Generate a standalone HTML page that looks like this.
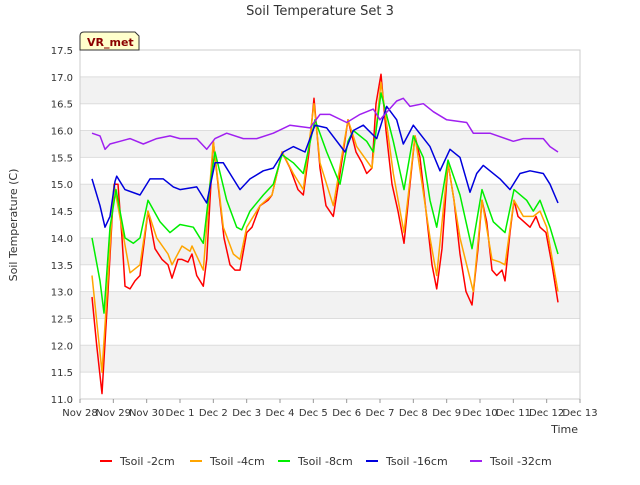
<!DOCTYPE html>
<html><head><meta charset="utf-8"><style>
body{margin:0;background:#fff;font-family:"Liberation Sans","DejaVu Sans",sans-serif}
</style></head><body>
<svg id="c" width="640" height="480" xmlns="http://www.w3.org/2000/svg" font-family="DejaVu Sans, Liberation Sans, sans-serif">
<text x="320" y="15" text-anchor="middle" font-size="13" fill="#333">Soil Temperature Set 3</text>
<g id="grid"></g><g id="series"></g><g id="axes"></g>
<text transform="translate(17,225) rotate(-90)" text-anchor="middle" font-size="11" fill="#333">Soil Temperature (C)</text>
<text x="578" y="433" text-anchor="end" font-size="11" fill="#333">Time</text>
<g><path d="M80,50 L80,36 Q80,32 84,32 L135,32 L139,36 L139,50 Z" fill="#ffffcc" stroke="#333"/><text x="87" y="46" font-size="11" font-weight="bold" fill="#8b0000">VR_met</text></g>
<g id="legend"></g>
</svg>
<script>
const xTicks=["Nov 28","Nov 29","Nov 30","Dec 1","Dec 2","Dec 3","Dec 4","Dec 5","Dec 6","Dec 7","Dec 8","Dec 9","Dec 10","Dec 11","Dec 12","Dec 13"];
const yTicks=[11.0,11.5,12.0,12.5,13.0,13.5,14.0,14.5,15.0,15.5,16.0,16.5,17.0,17.5];
const seriesNames=["Tsoil -2cm","Tsoil -4cm","Tsoil -8cm","Tsoil -16cm","Tsoil -32cm"];
const seriesColors=["#ff0000","#ffa500","#00ee00","#0000dd","#a020f0"];
const d2=[0.36,0.5,0.66,0.84,1.02,1.14,1.26,1.35,1.5,1.65,1.8,2.04,2.25,2.46,2.64,2.76,2.94,3.06,3.24,3.36,3.5,3.7,3.8,4.0,4.14,4.32,4.5,4.65,4.8,5.0,5.16,5.4,5.64,5.76,6.06,6.3,6.54,6.7,6.87,7.02,7.2,7.38,7.6,7.8,8.04,8.16,8.28,8.46,8.6,8.76,8.88,9.03,9.18,9.36,9.54,9.72,9.9,10.05,10.2,10.38,10.56,10.7,10.86,11.04,11.22,11.4,11.58,11.76,11.94,12.06,12.2,12.36,12.5,12.66,12.75,12.9,13.02,13.14,13.32,13.5,13.68,13.8,13.98,14.16,14.34];
const v2=[12.9,12.0,11.1,13.0,15.0,15.0,14.0,13.1,13.05,13.2,13.3,14.5,13.8,13.6,13.5,13.25,13.6,13.6,13.55,13.7,13.3,13.1,13.6,15.8,15.0,14.0,13.5,13.4,13.4,14.1,14.2,14.6,14.7,14.8,15.6,15.3,14.9,14.8,15.6,16.6,15.3,14.6,14.4,15.2,16.2,15.9,15.6,15.4,15.2,15.3,16.5,17.05,16.0,15.0,14.5,13.9,15.0,15.9,15.5,14.5,13.5,13.05,13.8,15.4,14.7,13.7,13.0,12.75,13.8,14.7,14.3,13.4,13.3,13.4,13.2,14.1,14.7,14.4,14.3,14.2,14.4,14.2,14.1,13.5,12.8];
const d4=[0.36,0.66,1.02,1.5,1.8,2.04,2.3,2.64,2.76,3.06,3.3,3.36,3.7,4.0,4.3,4.6,4.8,5.0,5.4,5.76,6.06,6.4,6.7,7.02,7.2,7.6,8.04,8.3,8.76,9.03,9.4,9.72,10.05,10.5,10.7,11.04,11.4,11.8,12.06,12.36,12.6,12.75,13.02,13.3,13.6,13.8,14.0,14.34];
const v4=[13.3,11.5,15.0,13.35,13.5,14.5,14.0,13.7,13.5,13.85,13.75,13.85,13.4,15.8,14.2,13.7,13.6,14.2,14.6,14.8,15.6,15.2,14.9,16.5,15.4,14.6,16.2,15.7,15.3,16.9,15.2,14.1,15.9,14.0,13.3,15.4,14.0,13.0,14.7,13.6,13.55,13.5,14.7,14.4,14.4,14.5,14.2,13.0];
const d8=[0.36,0.6,0.72,0.9,1.08,1.35,1.6,1.8,2.04,2.4,2.7,3.0,3.4,3.7,3.9,4.05,4.4,4.7,4.85,5.1,5.5,5.8,6.06,6.4,6.7,7.05,7.4,7.8,8.04,8.2,8.6,8.8,9.03,9.4,9.72,10.0,10.3,10.5,10.7,11.04,11.4,11.76,12.06,12.4,12.75,13.02,13.4,13.6,13.8,14.1,14.34];
const v8=[14.0,13.2,12.6,14.2,14.9,14.0,13.9,14.0,14.7,14.3,14.1,14.25,14.2,13.9,15.0,15.6,14.7,14.2,14.15,14.5,14.8,15.0,15.55,15.4,15.2,16.2,15.6,15.0,15.8,16.0,15.8,15.6,16.7,15.8,14.9,15.9,15.5,14.7,14.2,15.45,14.8,13.8,14.9,14.3,14.1,14.9,14.7,14.5,14.7,14.2,13.7];
const d16=[0.36,0.6,0.75,0.9,1.05,1.1,1.35,1.8,2.1,2.5,2.8,3.0,3.5,3.8,4.05,4.3,4.6,4.8,5.1,5.5,5.8,6.1,6.4,6.75,7.05,7.4,7.95,8.2,8.5,8.9,9.2,9.5,9.7,10.0,10.5,10.8,11.1,11.4,11.7,11.9,12.1,12.6,12.9,13.2,13.5,13.9,14.1,14.34];
const v16=[15.1,14.6,14.2,14.4,15.05,15.15,14.9,14.8,15.1,15.1,14.95,14.9,14.95,14.65,15.4,15.4,15.1,14.9,15.1,15.25,15.3,15.6,15.7,15.6,16.1,16.05,15.6,16.0,16.1,15.85,16.45,16.2,15.75,16.1,15.7,15.25,15.65,15.5,14.85,15.2,15.35,15.1,14.9,15.2,15.25,15.2,15.0,14.65];
const d32=[0.36,0.6,0.75,0.9,1.2,1.5,1.9,2.3,2.7,3.0,3.5,3.8,4.05,4.4,4.9,5.3,5.8,6.3,6.9,7.2,7.5,8.0,8.4,8.8,9.0,9.5,9.7,9.9,10.3,10.6,11.0,11.6,11.8,12.3,13.0,13.3,13.6,13.9,14.1,14.34];
const v32=[15.95,15.9,15.65,15.75,15.8,15.85,15.75,15.85,15.9,15.85,15.85,15.65,15.85,15.95,15.85,15.85,15.95,16.1,16.05,16.3,16.3,16.15,16.3,16.4,16.2,16.55,16.6,16.45,16.5,16.35,16.2,16.15,15.95,15.95,15.8,15.85,15.85,15.85,15.7,15.6];
const X0=80,X1=580,Y0=399,Y1=50;
const xs=d=>X0+d*(X1-X0)/15;
const ys=v=>Y0-(v-11)*(Y0-Y1)/6.5;
const NS="http://www.w3.org/2000/svg";
function mk(t,a,p){const e=document.createElementNS(NS,t);for(const k in a)e.setAttribute(k,a[k]);p.appendChild(e);return e;}
const grid=document.getElementById('grid'),axes=document.getElementById('axes'),ser=document.getElementById('series'),leg=document.getElementById('legend');
for(let i=0;i<yTicks.length-1;i++){
 if(i%2===1){const r=mk('rect',{x:X0,y:ys(yTicks[i+1]),width:X1-X0,height:ys(yTicks[i])-ys(yTicks[i+1]),fill:'#f2f2f2'},grid);
 
 }
}
yTicks.forEach(v=>{const l=mk('line',{x1:X0,x2:X1,y1:ys(v),y2:ys(v),stroke:'#dddddd'},grid);
 
 
 const t=mk('text',{x:X0-7,y:ys(v)+4,'text-anchor':'end','font-size':10,fill:'#333'},axes);t.textContent=v.toFixed(1);
 
 });
mk('rect',{x:X0,y:Y1,width:X1-X0,height:Y0-Y1,fill:'none',stroke:'#cccccc'},grid);
xTicks.forEach((s,i)=>{const t=mk('text',{x:xs(i),y:Y0+17,'text-anchor':'middle','font-size':10,fill:'#333'},axes);t.textContent=s;
 
 
 mk('line',{x1:xs(i),x2:xs(i),y1:Y0,y2:Y0+4,stroke:'#999'},axes);});
const D=[d2,d4,d8,d16,d32],V=[v2,v4,v8,v16,v32];
D.forEach((d,k)=>{const p=mk('polyline',{points:d.map((x,i)=>xs(x).toFixed(1)+','+ys(V[k][i]).toFixed(1)).join(' '),fill:'none',stroke:seriesColors[k],'stroke-width':1.5,'stroke-linejoin':'round'},ser);
 
 });
const lx=[100,190,278,366,470];
seriesNames.forEach((n,k)=>{const g=mk('g',{},leg);
 
 
 mk('line',{x1:lx[k],x2:lx[k]+12,y1:461,y2:461,stroke:seriesColors[k],'stroke-width':2},g);
 const t=mk('text',{x:lx[k]+20,y:465,'font-size':11,fill:'#333'},g);t.textContent=n;});
</script>
</body></html>
